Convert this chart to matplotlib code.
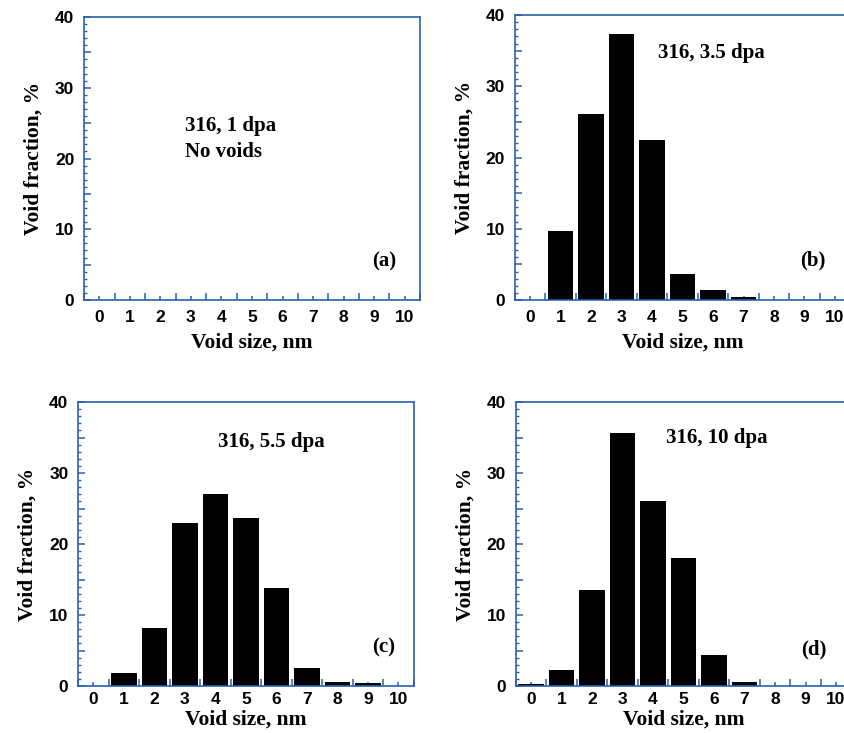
import matplotlib
matplotlib.use("Agg")
import matplotlib.pyplot as plt
from matplotlib.ticker import MultipleLocator, FuncFormatter

sizes = list(range(0, 11))
tick_labels = [str(s) for s in sizes]

frac_a = [0, 0, 0, 0, 0, 0, 0, 0, 0, 0, 0]
frac_b = [0, 9.7, 26.1, 37.3, 22.4, 3.6, 1.35, 0.4, 0, 0, 0]
frac_c = [0, 1.8, 8.2, 22.9, 27.0, 23.7, 13.8, 2.5, 0.5, 0.4, 0]
frac_d = [0.3, 2.2, 13.5, 35.6, 26.0, 18.1, 4.4, 0.55, 0, 0, 0]

panels = [
    dict(vals=frac_a, pos=[0.0994, 0.5907, 0.3976, 0.3861], xpad=7, lpad=6,
         notes=[("316, 1 dpa", 2.8, 23.9), ("No voids", 2.8, 20.2)], tag=("(a)", 8.92, 4.8)),
    dict(vals=frac_b, pos=[0.6092, 0.5907, 0.3970, 0.3888], xpad=7, lpad=6,
         notes=[("316, 3.5 dpa", 4.19, 34.0)], tag=("(b)", 8.87, 4.9)),
    dict(vals=frac_c, pos=[0.0925, 0.0641, 0.3970, 0.3874], xpad=4, lpad=2,
         notes=[("316, 5.5 dpa", 4.1, 33.7)], tag=("(c)", 9.15, 4.7)),
    dict(vals=frac_d, pos=[0.6104, 0.0641, 0.3970, 0.3874], xpad=4, lpad=2,
         notes=[("316, 10 dpa", 4.43, 34.3)], tag=("(d)", 8.84, 4.5)),
]

spine_col = "#2b5fad"
serif = "Liberation Serif"
sans = "Liberation Sans"

fig = plt.figure(figsize=(8.45, 7.33), dpi=100)

for p in panels:
    ax = fig.add_axes(p["pos"])
    ax.bar(sizes, p["vals"], width=0.84, color="black", edgecolor="none", zorder=2)
    ax.set_xlim(-0.5, 10.5)
    ax.set_ylim(0, 40)
    for s in ax.spines.values():
        s.set_color(spine_col)
        s.set_linewidth(1.2)
    ax.xaxis.set_minor_locator(MultipleLocator(0.5))
    ax.set_xticks(sizes)
    ax.set_xticklabels(tick_labels)
    ax.yaxis.set_major_locator(MultipleLocator(5))
    ax.yaxis.set_minor_locator(MultipleLocator(1))
    ax.yaxis.set_major_formatter(FuncFormatter(lambda v, pos: f"{int(v)}" if int(v) % 10 == 0 else ""))
    ax.tick_params(axis="x", which="major", direction="in", length=3, width=1.1,
                   color=spine_col, pad=p["xpad"], top=False)
    ax.tick_params(axis="x", which="minor", direction="in", length=5, width=1.1,
                   color=spine_col, top=False)
    ax.tick_params(axis="y", which="major", direction="in", length=5, width=1.1,
                   color=spine_col, pad=7, right=False)
    ax.tick_params(axis="y", which="minor", direction="in", length=2.5, width=1.0,
                   color=spine_col, right=False)
    for lab in ax.get_xticklabels() + ax.get_yticklabels():
        lab.set_fontfamily(sans)
        lab.set_fontweight("bold")
        lab.set_fontsize(12.5)
    ax.set_xlabel("Void size, nm", fontfamily=serif, fontweight="bold", fontsize=15.5,
                  labelpad=p["lpad"])
    ax.set_ylabel("Void fraction, %", fontfamily=serif, fontweight="bold", fontsize=15.5,
                  labelpad=8)
    for txt, x, y in p["notes"]:
        ax.text(x, y, txt, fontfamily=serif, fontweight="bold", fontsize=15,
                ha="left", va="baseline")
    t, x, y = p["tag"]
    ax.text(x, y, t, fontfamily=serif, fontweight="bold", fontsize=15, ha="left", va="baseline")

fig.savefig("out.png", dpi=100)
